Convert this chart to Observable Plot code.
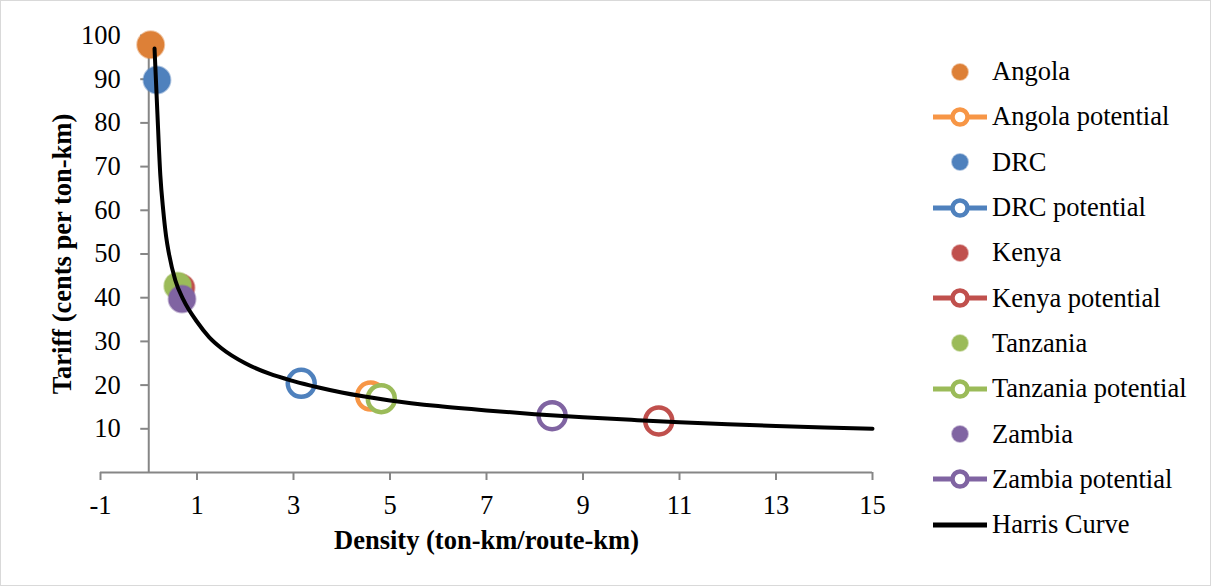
<!DOCTYPE html>
<html>
<head>
<meta charset="utf-8">
<script src="https://cdn.jsdelivr.net/npm/d3@7"></script>
<script src="https://cdn.jsdelivr.net/npm/@observablehq/plot@0.6"></script>
<style>
  body { margin: 0; background: #fff; font-family: "Liberation Serif", "Times New Roman", serif; }
  #frame { position: absolute; left: 0; top: 0; width: 1211px; height: 586px; border: 1px solid #d9d9d9; box-sizing: border-box; }
  #chart { position: absolute; left: 0; top: 0; }
  #legend { position: absolute; left: 933px; top: 49px; }
  .row { height: 45.3px; display: flex; align-items: center; font-size: 26.5px; color: #000; white-space: nowrap; }
  .row svg { width: 54px; height: 24px; margin-right: 5px; flex: none; }
</style>
</head>
<body>
<div id="frame"></div>
<div id="chart"></div>
<div id="legend"></div>
<script>
// ---- data ----
const countries = ["Angola", "DRC", "Kenya", "Tanzania", "Zambia"];
const actualColors = ["#dd8037", "#4f81bd", "#c0504d", "#9bbb59", "#8064a2"];
const potentialColors = ["#f79646", "#4f81bd", "#c0504d", "#9bbb59", "#8064a2"];
const actualDensity = [0.04, 0.17, 0.67, 0.60, 0.69];
const actualTariff = [97.9, 89.8, 42.3, 42.7, 39.7];
const potentialDensity = [4.60, 3.16, 10.57, 4.82, 8.36];
const potentialTariff = [17.5, 20.4, 11.8, 16.9, 13.0];
const curveDensity = [0.12, 0.18, 0.24, 0.30, 0.36, 0.42, 0.55, 0.72, 1, 1.25, 1.5, 2, 2.5, 3, 3.5, 4, 5, 6, 7, 8, 9, 10, 11, 12, 13, 14, 15];
const curveTariff = [97, 82, 68, 60, 54, 50, 44, 39.5, 34.5, 31, 28.5, 25, 22.6, 20.9, 19.5, 18.3, 16.5, 15.2, 14.2, 13.35, 12.65, 12.05, 11.5, 11.05, 10.65, 10.3, 10];
const xTicks = [-1, 1, 3, 5, 7, 9, 11, 13, 15];
const yTicks = [10, 20, 30, 40, 50, 60, 70, 80, 90, 100];
const xLabel = "Density (ton-km/route-km)";
const yLabel = "Tariff (cents per ton-km)";
const curveName = "Harris Curve";

// ---- tables built from the arrays ----
const actual = countries.map((c, i) => ({name: c, x: actualDensity[i], y: actualTariff[i], color: actualColors[i]}));
const potential = countries.map((c, i) => ({name: c + " potential", x: potentialDensity[i], y: potentialTariff[i], color: potentialColors[i]}));
const curve = curveDensity.map((x, i) => ({x, y: curveTariff[i]}));

const axisGray = "#868686";
const fs = 26.5;
const chart = Plot.plot({
  width: 900,
  height: 587,
  marginLeft: 100,
  marginRight: 28,
  marginTop: 35,
  marginBottom: 115,
  x: {domain: [-1, 15]},
  y: {domain: [0, 100]},
  style: {fontFamily: "'Liberation Serif', 'Times New Roman', serif", fontSize: fs + "px", color: "black", background: "transparent", overflow: "visible"},
  marks: [
    Plot.ruleY([0], {stroke: axisGray, strokeWidth: 2}),
    Plot.ruleX([0], {stroke: axisGray, strokeWidth: 2}),
    Plot.axisX(xTicks, {tickSize: 8, tickPadding: 15, stroke: axisGray, strokeWidth: 2, fill: "black", fontSize: fs, label: null, tickFormat: d => String(d)}),
    Plot.axisY(yTicks, {anchor: "left", dx: 48.25, tickSize: 8, tickPadding: 20, stroke: axisGray, strokeWidth: 2, fill: "black", fontSize: fs, label: null, tickFormat: d => String(d)}),
    Plot.dot(actual, {x: "x", y: "y", r: 13.5, fill: "color", stroke: "color", strokeOpacity: 0.45, strokeWidth: 2}),
    Plot.dot(potential, {x: "x", y: "y", r: 13.5, fill: "white", stroke: "color", strokeWidth: 4.5}),
    Plot.line(curve, {x: "x", y: "y", stroke: "black", strokeWidth: 4, curve: "monotone-x"}),
    Plot.text([yLabel], {text: d => d, frameAnchor: "left", textAnchor: "middle", lineAnchor: "middle", rotate: -90, dx: -38, fontWeight: "bold", fontSize: fs}),
    Plot.text([xLabel], {text: d => d, frameAnchor: "bottom", textAnchor: "middle", lineAnchor: "middle", dy: 68, fontWeight: "bold", fontSize: fs})
  ]
});
document.getElementById("chart").appendChild(chart);

// ---- legend ----
const legend = document.getElementById("legend");
const ns = "http://www.w3.org/2000/svg";
function row(label, draw) {
  const div = document.createElement("div");
  div.className = "row";
  const svg = document.createElementNS(ns, "svg");
  svg.setAttribute("viewBox", "0 0 54 24");
  draw(svg);
  div.appendChild(svg);
  const span = document.createElement("span");
  span.textContent = label;
  div.appendChild(span);
  legend.appendChild(div);
}
function el(svg, tag, attrs) {
  const e = document.createElementNS(ns, tag);
  for (const k in attrs) e.setAttribute(k, attrs[k]);
  svg.appendChild(e);
}
countries.forEach((c, i) => {
  row(c, svg => el(svg, "circle", {cx: 27, cy: 12, r: 8, fill: actualColors[i], stroke: actualColors[i], "stroke-opacity": 0.45, "stroke-width": 2}));
  row(potential[i].name, svg => {
    el(svg, "line", {x1: 0, x2: 54, y1: 12, y2: 12, stroke: potentialColors[i], "stroke-width": 5});
    el(svg, "circle", {cx: 27, cy: 12, r: 7.5, fill: "white", stroke: potentialColors[i], "stroke-width": 4.5});
  });
});
row(curveName, svg => el(svg, "line", {x1: 0, x2: 54, y1: 12, y2: 12, stroke: "black", "stroke-width": 5}));
</script>
</body>
</html>
